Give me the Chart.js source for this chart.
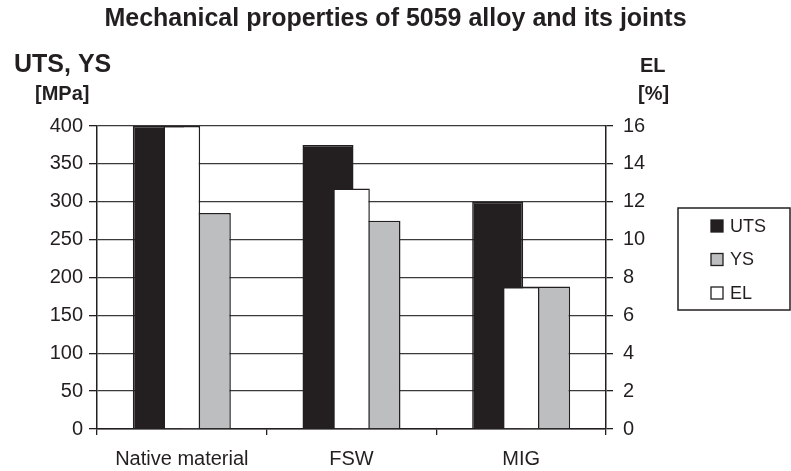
<!DOCTYPE html>
<html>
<head>
<meta charset="utf-8">
<script src="https://cdn.jsdelivr.net/npm/chart.js@4"></script>
<style>
  html, body { margin: 0; padding: 0; background: #fff; }
  #wrap { width: 791px; height: 471px; position: relative; }
</style>
</head>
<body>
<div id="wrap"><canvas id="c" width="791" height="471"></canvas></div>
<script>
const categories = ['Native material', 'FSW', 'MIG'];
const utsValues = [400, 375, 300];
const ysValues = [285, 275, 188];
const elValues = [16, 12.7, 7.5];
const seriesNames = ['UTS', 'YS', 'EL'];
const leftTitle = ['UTS, YS', '[MPa]'];
const rightTitle = ['EL', '[%]'];
const chartTitle = 'Mechanical properties of 5059 alloy and its joints';

const FONT = "'Liberation Sans', Arial, Helvetica, sans-serif";
const INK = '#231f20';

const headerPlugin = {
  id: 'headers',
  afterDraw(chart) {
    const ctx = chart.ctx;
    ctx.save();
    ctx.fillStyle = INK;
    ctx.textBaseline = 'alphabetic';
    ctx.textAlign = 'left';
    ctx.font = 'bold 25px ' + FONT;
    ctx.fillText(leftTitle[0], 14, 72);
    ctx.font = 'bold 20px ' + FONT;
    ctx.fillText(leftTitle[1], 35, 100);
    ctx.font = 'bold 20px ' + FONT;
    ctx.fillText(rightTitle[0], 640, 72);
    ctx.font = 'bold 20px ' + FONT;
    ctx.fillText(rightTitle[1], 638, 100);

    // legend
    const ds = chart.data.datasets;
    ctx.lineWidth = 1.5;
    ctx.strokeStyle = INK;
    ctx.strokeRect(678, 208, 112, 102);
    ctx.font = '18px ' + FONT;
    ctx.textBaseline = 'middle';
    const ys = [226, 259.5, 293];
    ds.forEach((d, k) => {
      ctx.fillStyle = d.backgroundColor;
      ctx.fillRect(711, ys[k] - 6, 12, 12);
      ctx.lineWidth = 1.3;
      ctx.strokeStyle = INK;
      ctx.strokeRect(711, ys[k] - 6, 12, 12);
      ctx.fillStyle = INK;
      ctx.fillText(d.label, 730, ys[k] + 1);
    });
    ctx.restore();
  }
};

new Chart(document.getElementById('c'), {
  type: 'bar',
  data: {
    labels: categories,
    datasets: [
      { label: seriesNames[0], data: utsValues, yAxisID: 'y',
        backgroundColor: '#231f20', borderColor: INK, borderWidth: 1.5,
        categoryPercentage: 0.554, barPercentage: 1.085 },
      { label: seriesNames[1], data: ysValues, yAxisID: 'y',
        backgroundColor: '#bcbec0', borderColor: INK, borderWidth: 1.5,
        categoryPercentage: 0.554, barPercentage: 1.085 },
      { label: seriesNames[2], data: elValues, yAxisID: 'y1', order: -1, grouped: false,
        backgroundColor: '#ffffff', borderColor: INK, borderWidth: 1.5,
        categoryPercentage: 1, barPercentage: 0.216 }
    ]
  },
  options: {
    responsive: false,
    animation: false,
    devicePixelRatio: 1,
    layout: { padding: 0 },
    plugins: {
      legend: { display: false },
      tooltip: { enabled: false },
      title: {
        display: true,
        text: chartTitle,
        color: INK,
        font: { family: FONT, size: 25, weight: 'bold' },
        padding: { top: 4, bottom: 92 }
      }
    },
    scales: {
      x: {
        type: 'category',
        offset: true,
        afterFit(s) { s.height = 42; },
        grid: { display: true, drawOnChartArea: false, offset: true, tickLength: 6, color: INK, lineWidth: 1.3 },
        border: { display: true, color: INK, width: 1.5 },
        ticks: { color: INK, font: { family: FONT, size: 20 }, padding: 12, maxRotation: 0 }
      },
      y: {
        position: 'left',
        min: 0, max: 400,
        afterFit(s) { s.width = 97; },
        ticks: { stepSize: 50, color: INK, font: { family: FONT, size: 20 }, padding: 6 },
        grid: { color: '#3a3a3a', lineWidth: 1.3, tickLength: 8, tickColor: INK },
        border: { display: true, color: INK, width: 1.5 }
      },
      y1: {
        position: 'right',
        min: 0, max: 16,
        afterFit(s) { s.width = 185; },
        ticks: { stepSize: 2, color: INK, font: { family: FONT, size: 20 }, padding: 10 },
        grid: { drawOnChartArea: false, tickLength: 7, color: INK, lineWidth: 1.3 },
        border: { display: true, color: INK, width: 1.5 }
      }
    }
  },
  plugins: [headerPlugin]
});
</script>
</body>
</html>
